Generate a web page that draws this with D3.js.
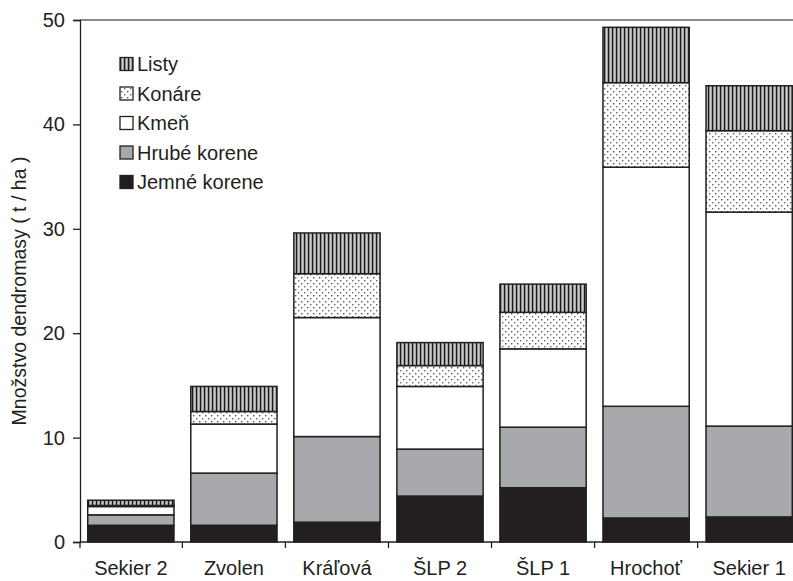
<!DOCTYPE html>
<html>
<head>
<meta charset="utf-8">
<script src="https://cdn.jsdelivr.net/npm/d3@7"></script>
<style>
  html, body { margin: 0; padding: 0; background: #fff; }
  svg { display: block; font-family: "Liberation Sans", Arial, sans-serif; }
</style>
</head>
<body>
<svg id="chart" width="793" height="581"></svg>
<script>
// Sites along the x axis
const categories = ["Sekier 2", "Zvolen", "Kráľová", "ŠLP 2", "ŠLP 1", "Hrochoť", "Sekier 1"];

// Biomass components (t/ha), stacked from the bottom up
const jemneKorene = [1.6, 1.6, 1.9, 4.4, 5.2, 2.3, 2.4];
const hrubeKorene = [1.0, 5.0, 8.2, 4.5, 5.8, 10.7, 8.7];
const kmen        = [0.8, 4.7, 11.4, 6.0, 7.5, 22.9, 20.5];
const konare      = [0.1, 1.2, 4.2, 2.0, 3.5, 8.1, 7.8];
const listy       = [0.5, 2.4, 3.9, 2.2, 2.7, 5.3, 4.3];

const seriesKeys   = ["jemne", "hrube", "kmen", "konare", "listy"];
const seriesLabels = ["Jemné korene", "Hrubé korene", "Kmeň", "Konáre", "Listy"];

const yTicks = [0, 10, 20, 30, 40, 50];
const yTitle = "Množstvo dendromasy ( t / ha )";

const table = categories.map((c, i) => ({
  site: c,
  jemne: jemneKorene[i],
  hrube: hrubeKorene[i],
  kmen: kmen[i],
  konare: konare[i],
  listy: listy[i]
}));

const svg = d3.select("#chart");
const ink = "#231f20";

// Fill patterns
const defs = svg.append("defs");

const stripes = defs.append("pattern")
  .attr("id", "pat-listy")
  .attr("patternUnits", "userSpaceOnUse")
  .attr("width", 4).attr("height", 4);
stripes.append("rect").attr("width", 4).attr("height", 4).attr("fill", "#fff");
stripes.append("rect").attr("x", 0).attr("width", 1.4).attr("height", 4).attr("fill", "#1a1a1a");
stripes.append("rect").attr("x", 1.4).attr("width", 1).attr("height", 4).attr("fill", "#808080");
stripes.append("rect").attr("x", 3.1).attr("width", 0.9).attr("height", 4).attr("fill", "#9a9a9a");

const dots = defs.append("pattern")
  .attr("id", "pat-konare")
  .attr("patternUnits", "userSpaceOnUse")
  .attr("width", 6).attr("height", 6);
dots.append("rect").attr("width", 6).attr("height", 6).attr("fill", "#fff");
dots.append("rect").attr("x", 1).attr("y", 1).attr("width", 1.4).attr("height", 1.4).attr("fill", "#555");
dots.append("rect").attr("x", 4).attr("y", 4).attr("width", 1.4).attr("height", 1.4).attr("fill", "#666");

const fills = {
  jemne: ink,
  hrube: "#a7a9ac",
  kmen: "#ffffff",
  konare: "url(#pat-konare)",
  listy: "url(#pat-listy)"
};

// Scales
const x = d3.scaleBand()
  .domain(categories)
  .range([80, 800])
  .paddingInner(0.163)
  .paddingOuter(0.075);

const y = d3.scaleLinear()
  .domain([0, 50])
  .range([542, 20]);

// Plot frame top edge
svg.append("line")
  .attr("x1", 80).attr("x2", 800)
  .attr("y1", y(50)).attr("y2", y(50))
  .attr("stroke", "#8a8a8a").attr("stroke-width", 2);

// Stacked bars
const stacked = d3.stack().keys(seriesKeys)(table);

svg.append("g")
  .selectAll("g")
  .data(stacked)
  .join("g")
  .attr("fill", d => fills[d.key])
  .selectAll("rect")
  .data(d => d)
  .join("rect")
  .attr("x", d => x(d.data.site))
  .attr("width", x.bandwidth())
  .attr("y", d => y(d[1]))
  .attr("height", d => y(d[0]) - y(d[1]))
  .attr("stroke", ink)
  .attr("stroke-width", 1.5);

// Y axis
const yAxis = svg.append("g")
  .attr("transform", "translate(80,0)")
  .call(d3.axisLeft(y).tickValues(yTicks).tickSize(7).tickPadding(8));
yAxis.select(".domain").attr("stroke", ink).attr("stroke-width", 1.3);
yAxis.selectAll(".tick line").attr("stroke", ink).attr("stroke-width", 1.3);
yAxis.selectAll(".tick text")
  .attr("fill", ink)
  .style("font-size", "20px")
  .style("font-family", "'Liberation Sans', Arial, sans-serif");

// X axis: ticks sit on the boundaries between sites
const boundaries = categories.map(c => x(c) - x.step() * x.paddingInner() / 2);
boundaries[0] = 80;
const xAxisG = svg.append("g");
xAxisG.append("line")
  .attr("x1", 80).attr("x2", 800)
  .attr("y1", y(0)).attr("y2", y(0))
  .attr("stroke", ink).attr("stroke-width", 1.3);
xAxisG.selectAll("line.tick")
  .data(boundaries)
  .join("line")
  .attr("class", "tick")
  .attr("x1", d => d).attr("x2", d => d)
  .attr("y1", y(0)).attr("y2", y(0) + 6)
  .attr("stroke", ink).attr("stroke-width", 1.3);
xAxisG.selectAll("text")
  .data(categories)
  .join("text")
  .attr("x", d => x(d) + x.bandwidth() / 2)
  .attr("y", 575)
  .attr("text-anchor", "middle")
  .attr("fill", ink)
  .style("font-size", "20px")
  .text(d => d);

// Y axis title
svg.append("text")
  .attr("transform", "translate(26,291) rotate(-90)")
  .attr("text-anchor", "middle")
  .attr("fill", ink)
  .style("font-size", "19.5px")
  .text(yTitle);

// Legend, top entry first
const legendOrder = [4, 3, 2, 1, 0];
const legend = svg.append("g");
legendOrder.forEach((k, row) => {
  const cy = 64 + row * 29.5;
  legend.append("rect")
    .attr("x", 120).attr("y", cy - 6.5)
    .attr("width", 13).attr("height", 13)
    .attr("fill", fills[seriesKeys[k]])
    .attr("stroke", ink).attr("stroke-width", 1.3);
  legend.append("text")
    .attr("x", 137).attr("y", cy + 7)
    .attr("fill", ink)
    .style("font-size", "20px")
    .text(seriesLabels[k]);
});
</script>
</body>
</html>
